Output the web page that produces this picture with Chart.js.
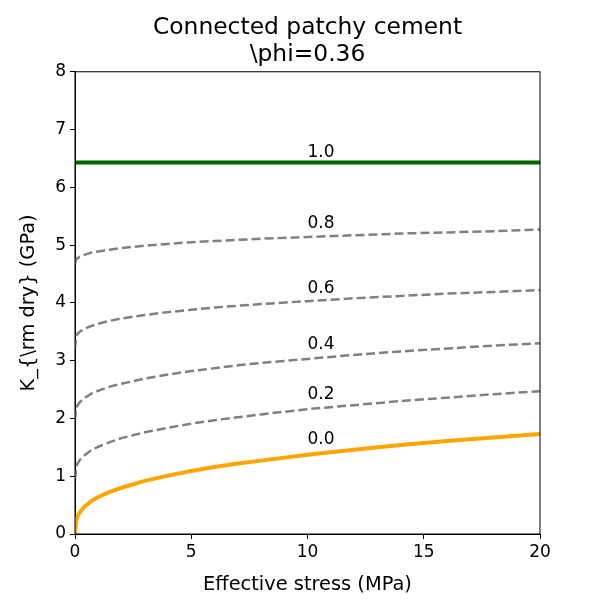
<!DOCTYPE html>
<html>
<head>
<meta charset="utf-8">
<script src="https://cdn.jsdelivr.net/npm/chart.js@4"></script>
<style>
  html, body { margin: 0; padding: 0; background: #fff; }
</style>
</head>
<body>
<canvas id="myChart" width="600" height="600"></canvas>
<script>
'use strict';

// Effective stress samples (MPa)
const stress = [0, 0.05, 0.1, 0.2, 0.4, 0.7, 1, 1.5, 2, 3, 4, 5, 6, 7, 8, 10, 12, 14, 16, 18, 20];

// K_dry (GPa) for each cement fraction
const k00 = [0, 0.23, 0.30, 0.37, 0.47, 0.57, 0.64, 0.73, 0.80, 0.92, 1.01, 1.09, 1.16, 1.22, 1.27, 1.37, 1.46, 1.54, 1.61, 1.67, 1.73];
const k02 = [0.95, 1.16, 1.21, 1.28, 1.36, 1.45, 1.51, 1.59, 1.66, 1.76, 1.84, 1.91, 1.97, 2.02, 2.07, 2.16, 2.23, 2.30, 2.36, 2.42, 2.47];
const k04 = [1.97, 2.18, 2.22, 2.28, 2.35, 2.43, 2.48, 2.55, 2.60, 2.69, 2.76, 2.82, 2.87, 2.92, 2.96, 3.03, 3.10, 3.16, 3.21, 3.26, 3.30];
const k06 = [3.20, 3.43, 3.46, 3.50, 3.55, 3.60, 3.64, 3.69, 3.73, 3.79, 3.84, 3.88, 3.92, 3.95, 3.98, 4.03, 4.08, 4.12, 4.16, 4.19, 4.22];
const k08 = [4.68, 4.75, 4.77, 4.80, 4.83, 4.87, 4.89, 4.92, 4.95, 4.99, 5.02, 5.05, 5.07, 5.09, 5.11, 5.14, 5.17, 5.20, 5.22, 5.24, 5.27];
const stress10 = [0, 20];
const k10 = [6.43, 6.43];

// curve annotations (text placed at x = 10)
const curveLabels = ['0.0', '0.2', '0.4', '0.6', '0.8', '1.0'];
const labelX = 10;
const labelY = [1.55, 2.33, 3.20, 4.17, 5.29, 6.52];

const xTicks = [0, 5, 10, 15, 20];
const yTicks = [0, 1, 2, 3, 4, 5, 6, 7, 8];

const FONT = '"DejaVu Sans", sans-serif';

function pts(xs, ys) {
  return xs.map(function (x, i) { return { x: x, y: ys[i] }; });
}

function dashed(ys) {
  return {
    data: pts(stress, ys),
    borderColor: '#808080',
    borderWidth: 2.5,
    borderDash: [9, 4],
    pointRadius: 0,
    fill: false
  };
}

// draws the box round the axes and the curve labels
const frameAndLabels = {
  id: 'frameAndLabels',
  afterDatasetsDraw(chart) {
    const ctx = chart.ctx;
    const a = chart.chartArea;
    const xs = chart.scales.x, ys = chart.scales.y;
    ctx.save();
    ctx.strokeStyle = '#000';
    ctx.lineWidth = 1;
    ctx.strokeRect(a.left, a.top, a.right - a.left, a.bottom - a.top);
    ctx.fillStyle = '#000';
    ctx.font = '17px ' + FONT;
    ctx.textAlign = 'left';
    ctx.textBaseline = 'alphabetic';
    for (var i = 0; i < curveLabels.length; i++) {
      ctx.fillText(curveLabels[i], xs.getPixelForValue(labelX), ys.getPixelForValue(labelY[i]));
    }
    ctx.restore();
  }
};

const ctx = document.getElementById('myChart');
new Chart(ctx, {
  type: 'line',
  data: {
    datasets: [
      { data: pts(stress, k00), borderColor: '#ffa500', borderWidth: 4, pointRadius: 0, fill: false },
      dashed(k02),
      dashed(k04),
      dashed(k06),
      dashed(k08),
      { data: pts(stress10, k10), borderColor: '#006400', borderWidth: 4, pointRadius: 0, fill: false }
    ]
  },
  options: {
    responsive: false,
    animation: false,
    layout: { padding: { top: 0, right: 60, bottom: 0, left: 0 } },
    plugins: {
      legend: { display: false },
      tooltip: { enabled: false },
      title: {
        display: true,
        fullSize: false,
        text: ['Connected patchy cement', '\\phi=0.36'],
        color: '#000',
        font: { family: FONT, size: 23.4, weight: 'normal', lineHeight: 1.17 },
        padding: { top: 14, bottom: 3 }
      }
    },
    scales: {
      x: {
        type: 'linear',
        min: 0,
        max: 20,
        afterBuildTicks: function (s) { s.ticks = xTicks.map(function (v) { return { value: v }; }); },
        afterFit: function (s) { s.height = 66; },
        ticks: { color: '#000', font: { family: FONT, size: 17 }, padding: 3, maxRotation: 0 },
        grid: { drawOnChartArea: false, tickLength: 5, color: '#000' },
        border: { color: '#000' },
        title: {
          display: true,
          text: 'Effective stress (MPa)',
          color: '#000',
          font: { family: FONT, size: 19.4 },
          padding: { top: 0, bottom: 3 }
        }
      },
      y: {
        min: 0,
        max: 8,
        afterBuildTicks: function (s) { s.ticks = yTicks.map(function (v) { return { value: v }; }); },
        afterFit: function (s) { s.width = 75; },
        ticks: { color: '#000', font: { family: FONT, size: 17 }, padding: 4 },
        grid: { drawOnChartArea: false, tickLength: 5, color: '#000' },
        border: { color: '#000' },
        title: {
          display: true,
          text: 'K_{\\rm dry} (GPa)',
          color: '#000',
          font: { family: FONT, size: 19.4 },
          padding: { top: 17, bottom: 0 }
        }
      }
    }
  },
  plugins: [frameAndLabels]
});
</script>
</body>
</html>
